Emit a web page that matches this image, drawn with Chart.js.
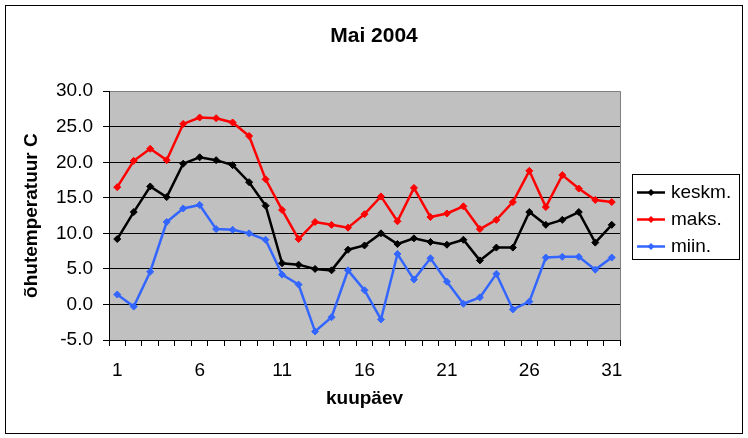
<!DOCTYPE html>
<html>
<head>
<meta charset="utf-8">
<title>Mai 2004</title>
<script src="https://cdn.jsdelivr.net/npm/chart.js@4"></script>
<style>
    body { margin: 0; background: #fff; }
    canvas { display: block; }
</style>
</head>
<body>
<canvas id="tempGraph" width="748" height="438"></canvas>
<script>
//data
const days = [1, 2, 3, 4, 5, 6, 7, 8, 9, 10, 11, 12, 13, 14, 15, 16,
    17, 18, 19, 20, 21, 22, 23, 24, 25, 26, 27, 28, 29, 30, 31];
const keskm = [9.2, 13.0, 16.6, 15.1, 19.8, 20.7, 20.3, 19.6, 17.2, 13.9, 5.8, 5.6, 5.0, 4.8, 7.7, 8.3,
    10.0, 8.5, 9.3, 8.8, 8.4, 9.1, 6.2, 8.0, 8.0, 13.0, 11.2, 11.9, 13.0, 8.7, 11.2];
const maks = [16.5, 20.2, 21.9, 20.3, 25.4, 26.3, 26.2, 25.6, 23.7, 17.6, 13.3, 9.2, 11.6, 11.2, 10.8, 12.7,
    15.2, 11.7, 16.4, 12.3, 12.8, 13.8, 10.6, 11.9, 14.4, 18.8, 13.7, 18.2, 16.3, 14.7, 14.4];
const miin = [1.4, -0.3, 4.6, 11.6, 13.5, 14.0, 10.6, 10.5, 10.0, 9.1, 4.2, 2.8, -3.8, -1.8, 4.8, 2.0,
    -2.1, 7.1, 3.5, 6.5, 3.2, 0.1, 1.0, 4.3, -0.7, 0.4, 6.6, 6.7, 6.7, 4.9, 6.6];
const xTickLabels = [1, 6, 11, 16, 21, 26, 31];
const yMin = -5;
const yMax = 30;
const yStep = 5;

const FONT = 'Liberation Sans, Arial, sans-serif';

//background, borders and legend box
const chartFrame = {
    id: 'chartFrame',
    beforeDraw(chart) {
        const { ctx, chartArea: a } = chart;
        ctx.save();
        ctx.fillStyle = '#fff';
        ctx.fillRect(0, 0, chart.width, chart.height);
        ctx.fillStyle = '#c0c0c0';
        ctx.fillRect(a.left, a.top, a.right - a.left, a.bottom - a.top);
        ctx.restore();
    },
    beforeDatasetsDraw(chart) {
        const { ctx, chartArea: a } = chart;
        ctx.save();
        ctx.strokeStyle = '#808080';
        ctx.lineWidth = 1;
        ctx.beginPath();
        ctx.moveTo(a.right + 0.5, a.top);
        ctx.lineTo(a.right + 0.5, a.bottom);
        ctx.stroke();
        ctx.restore();
    },
    afterDraw(chart) {
        const ctx = chart.ctx;
        ctx.save();
        ctx.strokeStyle = '#000';
        ctx.lineWidth = 1;
        ctx.strokeRect(5.5, 5.5, 737, 428);

        //legend
        ctx.strokeRect(632.5, 174.5, 107, 85);
        ctx.font = '19px ' + FONT;
        ctx.textBaseline = 'middle';
        ctx.textAlign = 'left';
        chart.data.datasets.forEach((ds, i) => {
            const y = 192.5 + i * 27;
            ctx.strokeStyle = ds.borderColor;
            ctx.lineWidth = 2.5;
            ctx.beginPath();
            ctx.moveTo(637, y);
            ctx.lineTo(665, y);
            ctx.stroke();
            ctx.fillStyle = ds.borderColor;
            ctx.beginPath();
            ctx.moveTo(651, y - 3.5);
            ctx.lineTo(654.5, y);
            ctx.lineTo(651, y + 3.5);
            ctx.lineTo(647.5, y);
            ctx.closePath();
            ctx.fill();
            ctx.fillStyle = '#000';
            ctx.fillText(ds.label, 671, y);
        });
        ctx.restore();
    }
};

function makeSet(label, data, color) {
    return {
        label: label,
        data: data,
        borderColor: color,
        backgroundColor: color,
        borderWidth: 2.5,
        pointStyle: 'rectRot',
        pointRadius: 3.5,
        pointBackgroundColor: color,
        pointBorderColor: color,
        pointBorderWidth: 1,
        tension: 0
    };
}

const ctx = document.getElementById('tempGraph');

new Chart(ctx, {
    type: 'line',
    data: {
        labels: days,
        datasets: [
            makeSet('keskm.', keskm, '#000000'),
            makeSet('maks.', maks, '#ff0000'),
            makeSet('miin.', miin, '#3366ff')
        ]
    },
    options: {
        responsive: false,
        animation: false,
        devicePixelRatio: 1,
        layout: { padding: 0 },
        plugins: {
            legend: { display: false },
            tooltip: { enabled: false },
            title: {
                display: true,
                text: 'Mai 2004',
                color: '#000',
                font: { family: FONT, size: 21, weight: 'bold' },
                padding: { top: 24, bottom: 42 }
            }
        },
        scales: {
            x: {
                type: 'category',
                offset: true,
                afterFit: (scale) => { scale.height = 98; },
                grid: {
                    offset: true,
                    drawOnChartArea: false,
                    drawTicks: true,
                    tickLength: 6,
                    color: '#000'
                },
                border: { color: '#000', width: 1 },
                ticks: {
                    autoSkip: false,
                    maxRotation: 0,
                    padding: 13,
                    color: '#000',
                    font: { family: FONT, size: 19 },
                    callback: function (val) {
                        const d = this.getLabelForValue(val);
                        return xTickLabels.includes(d) ? String(d) : '';
                    }
                },
                title: {
                    display: true,
                    text: 'kuupäev',
                    color: '#000',
                    font: { family: FONT, size: 19, weight: 'bold' },
                    padding: { top: 0, bottom: 28 }
                }
            },
            y: {
                min: yMin,
                max: yMax,
                afterFit: (scale) => { scale.width = 109; },
                grid: {
                    color: (c) => (c.tick && c.tick.value === yMax) ? '#808080' : '#000',
                    tickColor: '#000',
                    tickLength: 6
                },
                border: { color: '#000', width: 1 },
                ticks: {
                    stepSize: yStep,
                    padding: 10,
                    color: '#000',
                    font: { family: FONT, size: 19 },
                    callback: (v) => v.toFixed(1)
                },
                title: {
                    display: true,
                    text: 'õhutemperatuur C',
                    color: '#000',
                    font: { family: FONT, size: 19, weight: 'bold' },
                    padding: { top: 20, bottom: 0 }
                }
            },
            //empty axis, keeps room for the legend box on the right
            legendSpace: {
                type: 'linear',
                position: 'right',
                afterFit: (scale) => { scale.width = 128; },
                grid: { display: false },
                border: { display: false },
                ticks: { display: false }
            }
        }
    },
    plugins: [chartFrame]
});
</script>
</body>
</html>
